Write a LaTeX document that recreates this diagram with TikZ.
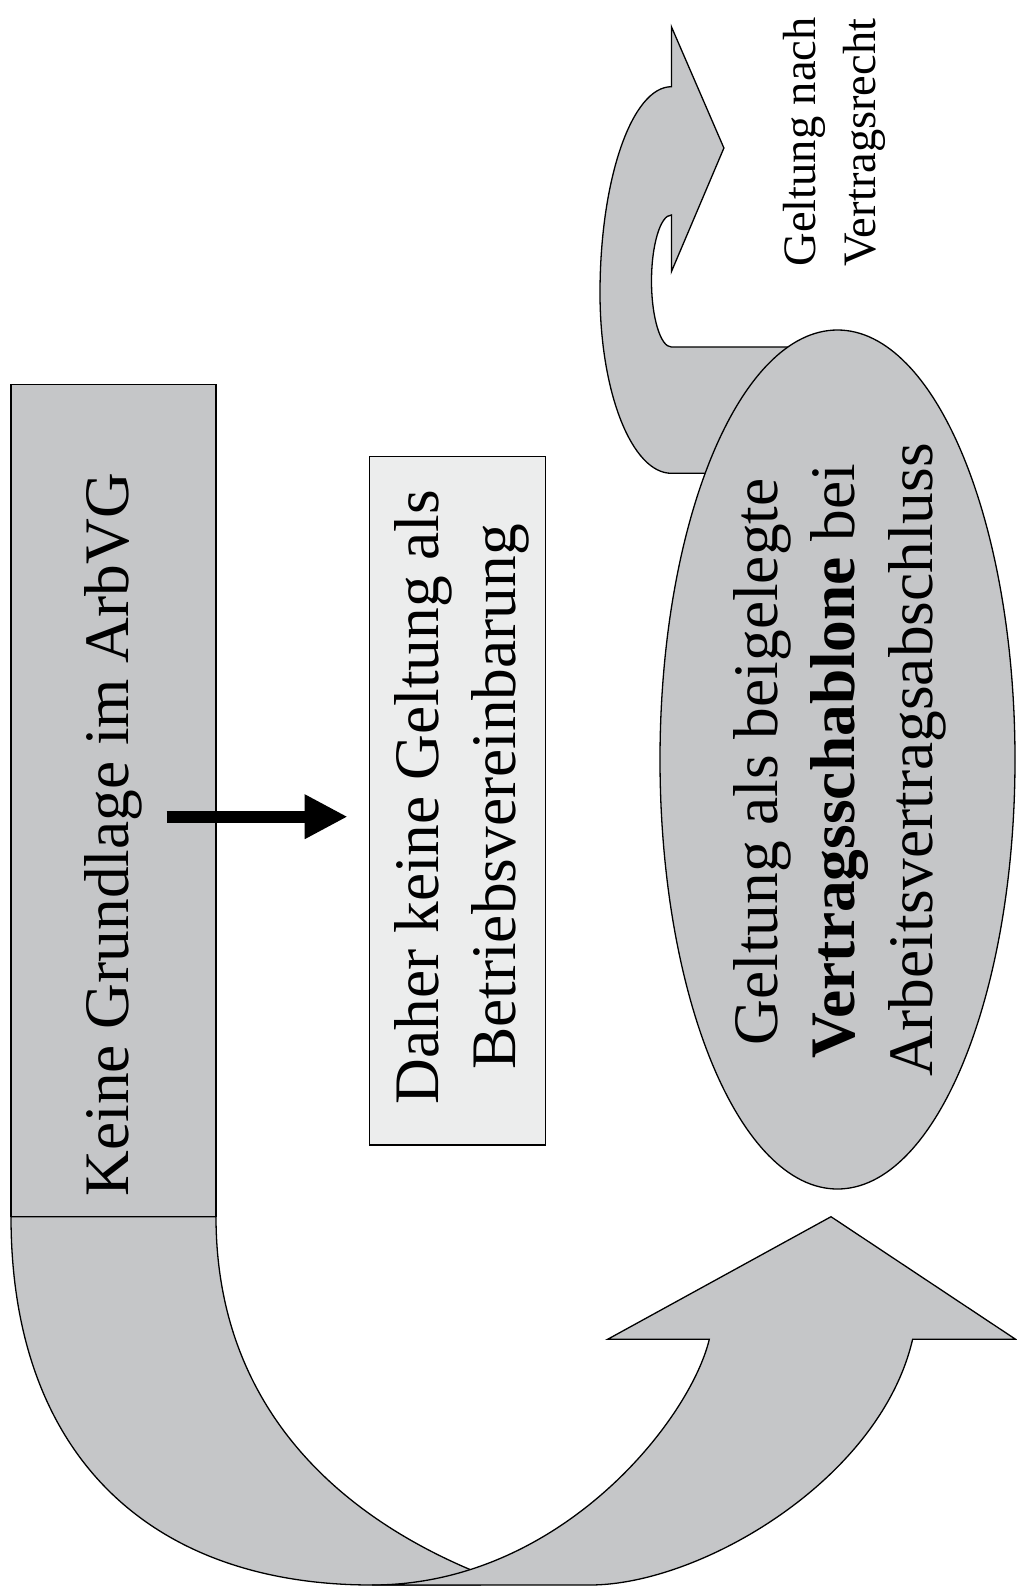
\documentclass[tikz,border=0pt]{standalone}
\usepackage{fontspec}
\setmainfont{Liberation Serif}
\usetikzlibrary{arrows.meta,shapes.geometric}
\definecolor{blockgray}{RGB}{197,198,200}
\definecolor{boxgray}{RGB}{236,237,237}
\tikzset{
  outline/.style={draw=black, line width=1.3pt, line join=miter},
  blockshape/.style={outline, fill=blockgray},
  graybox/.style={rectangle, outline, fill=blockgray, inner sep=0pt},
  lightbox/.style={rectangle, outline, fill=boxgray, inner sep=0pt},
  grayellipse/.style={ellipse, outline, fill=blockgray, inner sep=0pt},
  bigtext/.style={font=\fontsize{63.4}{76}\selectfont, inner sep=0pt, rotate=90},
  smalltext/.style={font=\fontsize{46.5}{58}\selectfont, inner sep=0pt, rotate=90},
  thickarrow/.style={line width=12.3pt, -{Triangle[length=42pt,width=45pt,line width=0pt]}}
}
\begin{document}
\begin{tikzpicture}[x=1pt,y=-1pt]
\useasboundingbox (0,0) rectangle (1017,1596);
\fill[white] (0,0) rectangle (1017,1596);

% U-turn block arrow: left band
\path[blockshape] (11,1216.7) -- (216,1216.7)
  .. controls (216,1400) and (330,1510) .. (470,1569.5)
  -- (480,1585) -- (372,1585)
  .. controls (152,1585) and (11,1457) .. (11,1216.7) -- cycle;
% U-turn block arrow: right arm with head
\path[blockshape] (372,1585) -- (590,1585)
  .. controls (700,1585) and (880,1480) .. (912.6,1339.3)
  -- (1015.6,1339.3) -- (831,1216.7) -- (607.6,1339.3) -- (709.3,1339.3)
  .. controls (690,1420) and (560,1585) .. (372,1585) -- cycle;

% left box
\node[graybox, minimum width=205pt, minimum height=832.4pt] (keinebox) at (113.5,800.5) {};
\node[bigtext, anchor=base west] (keine) at (128.3,1196.7) {Keine Grundlage im ArbVG};

% middle box
\node[lightbox, minimum width=176pt, minimum height=688.3pt] (daherbox) at (457.3,800.85) {};
\node[bigtext, anchor=base] (daher1) at (438.3,797) {Daher keine Geltung als};
\node[bigtext, anchor=base] (daher2) at (515,797) {Betriebsvereinbarung};

% horizontal arrow
\coordinate (arrowstart) at (166.7,816.7);
\coordinate (arrowend) at (346.7,816.7);
\draw[thickarrow] (arrowstart) -- (arrowend);

% hook arrow from ellipse to top
\fill[blockgray] (830,473.3) -- (671.4,473.3)
  .. controls (632,473.3) and (600,392.5) .. (600,293)
  .. controls (600,179) and (632,86.7) .. (671.4,86.7)
  -- (671.4,26.7) -- (723.9,148) -- (671.4,271.7) -- (671.4,215)
  .. controls (660.4,215) and (651.5,245) .. (651.5,281)
  .. controls (651.5,317) and (660.4,347) .. (671.4,347) -- (830,347) -- cycle;
\draw[outline] (830,473.3) -- (671.4,473.3)
  .. controls (632,473.3) and (600,392.5) .. (600,293)
  .. controls (600,179) and (632,86.7) .. (671.4,86.7)
  -- (671.4,26.7) -- (723.9,148) -- (671.4,271.7) -- (671.4,215)
  .. controls (660.4,215) and (651.5,245) .. (651.5,281)
  .. controls (651.5,317) and (660.4,347) .. (671.4,347) -- (830,347);

% ellipse
\node[grayellipse, minimum width=355pt, minimum height=859pt] (schablone) at (837.5,759.5) {};
\node[bigtext, anchor=base] (schab1) at (777,762) {Geltung als beigelegte};
\node[bigtext, anchor=base] (schab2) at (854.5,761) {\textbf{Vertragsschablone} bei};
\node[bigtext, anchor=base] (schab3) at (932,760) {Arbeitsvertragsabschluss};

% top label
\node[smalltext, anchor=base west] (recht1) at (815,266.7) {Geltung nach};
\node[smalltext, anchor=base west] (recht2) at (875,266.7) {Vertragsrecht};
\end{tikzpicture}
\end{document}
